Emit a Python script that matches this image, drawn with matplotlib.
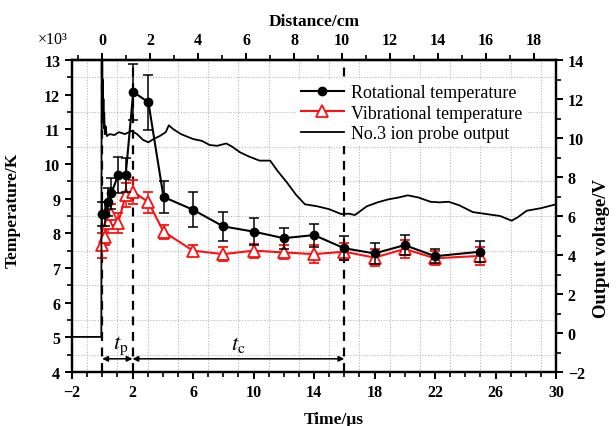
import numpy as np
import matplotlib
matplotlib.use("Agg")
import matplotlib.pyplot as plt
from matplotlib.lines import Line2D
from matplotlib.ticker import FixedLocator, MultipleLocator

# ---------------- data ----------------
rot_t = [0.0, 0.15, 0.35, 0.6, 1.05, 1.55, 2.05, 3.05, 4.05, 6.0, 8.0, 10.0,
         12.0, 14.0, 16.0, 18.0, 20.0, 22.0, 25.0]
rot_T = [8.55, 8.55, 8.9, 9.15, 9.68, 9.68, 12.08, 11.78, 9.05, 8.68, 8.2, 8.05,
         7.86, 7.95, 7.57, 7.42, 7.66, 7.34, 7.47]
rot_err = [0.35, 0.35, 0.4, 0.45, 0.52, 0.5, 0.8, 0.8, 0.45, 0.5, 0.42, 0.38,
           0.3, 0.33, 0.35, 0.3, 0.28, 0.2, 0.3]

vib_t = [0.0, 0.15, 0.35, 0.6, 1.05, 1.55, 2.05, 3.05, 4.05, 6.0, 8.0, 10.0,
         12.0, 14.0, 16.0, 18.0, 20.0, 22.0, 25.0]
vib_T = [7.65, 7.9, 8.3, 8.55, 8.3, 9.1, 9.2, 8.9, 8.05, 7.5, 7.4, 7.5,
         7.45, 7.4, 7.47, 7.3, 7.55, 7.28, 7.35]
vib_err = [0.35, 0.25, 0.3, 0.3, 0.3, 0.35, 0.35, 0.3, 0.2, 0.15, 0.2, 0.2,
           0.2, 0.25, 0.25, 0.25, 0.25, 0.2, 0.25]

probe_t = [-2.0, -0.06, -0.04, -0.02, 0.0, 0.02, 0.04, 0.06, 0.08, 0.1, 0.13, 0.17,
           0.22, 0.3, 0.5, 0.8, 1.1, 1.5, 1.95, 2.3, 2.7, 3.05, 3.4, 3.8, 4.2, 4.4,
           4.7, 5.2, 6.0, 6.6, 7.1, 7.6, 8.2, 8.6, 9.1, 9.7, 10.4, 11.1, 11.6, 12.2,
           12.8, 13.4, 14.2, 15.0, 15.8, 16.3, 16.7, 17.5, 18.2, 18.9, 19.6, 20.2,
           20.9, 21.7, 22.3, 22.9, 23.6, 24.5, 25.4, 26.3, 27.07, 27.5, 28.06, 29.0, 30.0]
probe_v = [-0.2, -0.2, 15, 12.5, 14, 11.5, 13, 10.8, 12, 10.5, 11.3, 10.2,
           10.6, 10.1, 10.2, 10.15, 10.3, 10.2, 10.37, 10.2, 9.9, 9.78, 9.95, 10.1, 10.3, 10.65,
           10.45, 10.2, 9.95, 9.85, 9.64, 9.6, 9.72, 9.55, 9.27, 9.05, 8.84, 8.84, 8.3, 7.73,
           7.1, 6.6, 6.5, 6.35, 6.1, 6.12, 6.05, 6.5, 6.7, 6.85, 6.95, 7.06,
           6.95, 6.73, 6.7, 6.73, 6.55, 6.2, 6.1, 6.0, 5.76, 5.95, 6.27, 6.4, 6.6]

marker_times = [0.0, 2.0, 16.0]          # dashed vertical guides
phase_labels = ["$t_{\\mathrm{p}}$", "$t_{\\mathrm{c}}$"]
cm_per_us = 0.6305                        # distance axis conversion
distance_ticks = [0, 2, 4, 6, 8, 10, 12, 14, 16, 18]

series_labels = ["Rotational temperature", "Vibrational temperature",
                 "No.3 ion probe output"]

# ---------------- style ----------------
plt.rcParams['font.family'] = ['Liberation Serif', 'DejaVu Serif']
plt.rcParams['mathtext.fontset'] = 'stix'
plt.rcParams['axes.linewidth'] = 1.6

RED = '#ff1010'
fig = plt.figure(figsize=(6.16, 4.27), dpi=100)
ax = fig.add_axes([72 / 616, 1 - 373 / 427, 484 / 616, 312 / 427])
ax2 = ax.twinx()

ax.set_xlim(-2, 30)
ax.set_ylim(4, 13)
ax2.set_ylim(-2, 14)

# grid (dotted, at odd times and half-kelvin levels)
for gx in np.arange(-1, 30, 2):
    ax.axvline(gx, color='#b8b8b8', lw=0.8, ls=(0, (1, 1.5)), zorder=0)
for gy in np.arange(4.5, 13, 1):
    ax.axhline(gy, color='#b8b8b8', lw=0.8, ls=(0, (1, 1.5)), zorder=0)

# dashed guides
for mt in marker_times:
    ax.axvline(mt, color='black', lw=1.6, ls=(0, (4, 3)), zorder=1)

# probe output
ax2.plot(probe_t, probe_v, color='black', lw=1.3, zorder=3)

# temperatures
ax.errorbar(rot_t, rot_T, yerr=rot_err, color='black', marker='o', ms=6,
            lw=1.5, elinewidth=1.1, capsize=3.5, capthick=1.1, zorder=5)
ax.errorbar(vib_t, vib_T, yerr=vib_err, color=RED, marker='^', ms=8,
            mfc='white', mec=RED, mew=1.3, lw=1.5, elinewidth=1.1,
            capsize=3.5, capthick=1.1, zorder=4)

# phase arrows
arrow_y = 4.38
ax.annotate('', xy=(marker_times[0], arrow_y), xytext=(marker_times[1], arrow_y),
            arrowprops=dict(arrowstyle='<|-|>', color='black', lw=1.1,
                            mutation_scale=8, shrinkA=0, shrinkB=0))
ax.annotate('', xy=(marker_times[1], arrow_y), xytext=(marker_times[2], arrow_y),
            arrowprops=dict(arrowstyle='<|-|>', color='black', lw=1.1,
                            mutation_scale=8, shrinkA=0, shrinkB=0))
ax.text((marker_times[0] + marker_times[1]) / 2 + 0.2, 4.8, phase_labels[0],
        ha='center', va='center', fontsize=16)
ax.text((marker_times[1] + marker_times[2]) / 2, 4.8, phase_labels[1],
        ha='center', va='center', fontsize=16)

# ticks
ax.xaxis.set_major_locator(FixedLocator(np.arange(-2, 31, 4)))
ax.xaxis.set_minor_locator(MultipleLocator(1))
ax.yaxis.set_major_locator(MultipleLocator(1))
ax.yaxis.set_minor_locator(MultipleLocator(0.5))
ax2.yaxis.set_major_locator(MultipleLocator(2))
ax2.yaxis.set_minor_locator(MultipleLocator(1))
for a in (ax, ax2):
    a.tick_params(which='major', direction='out', length=5, width=1.4,
                  labelsize=11.5)
    a.tick_params(which='minor', direction='out', length=3.5, width=1.2)
    for lab in a.get_xticklabels() + a.get_yticklabels():
        lab.set_fontweight('bold')

secax = ax.secondary_xaxis('top', functions=(lambda t: t * cm_per_us,
                                             lambda d: d / cm_per_us))
secax.xaxis.set_major_locator(FixedLocator(distance_ticks))
secax.xaxis.set_minor_locator(FixedLocator(np.arange(-1, 19, 2)))
secax.tick_params(which='major', direction='out', length=5, width=1.4, labelsize=11.5)
secax.tick_params(which='minor', direction='out', length=3.5, width=1.2)
for lab in secax.get_xticklabels():
    lab.set_fontweight('bold')

ax.set_xlabel('Time/μs', fontsize=12.5, fontweight='bold')
ax.xaxis.set_label_coords(0.54, -0.125)
ax.set_ylabel('Temperature/K', fontsize=12.5, fontweight='bold')
ax.yaxis.set_label_coords(-0.105, 0.52)
ax2.set_ylabel('Output voltage/V', fontsize=13.5, fontweight='bold', rotation=90)
ax2.yaxis.set_label_coords(1.076, 0.4)
secax.set_xlabel('Distance/cm', fontsize=12.5, fontweight='bold', labelpad=5)
fig.text(38 / 616, 1 - 40 / 427, '×10³', fontsize=11.5,
         ha='left', va='center')

handles = [
    Line2D([], [], color='black', marker='o', ms=6, lw=1.5),
    Line2D([], [], color=RED, marker='^', ms=8, mfc='white', mec=RED, mew=1.3, lw=1.5),
    Line2D([], [], color='black', lw=1.3),
]
leg = ax2.legend(handles, series_labels, loc='upper left',
                 bbox_to_anchor=(0.465, 0.935), frameon=True, framealpha=1,
                 facecolor='white', edgecolor='none', fontsize=13,
                 handlelength=2.4, handletextpad=0.4, labelspacing=0.2,
                 borderpad=0.2, borderaxespad=0)
leg.set_zorder(10)

fig.savefig('out.png', dpi=100)
